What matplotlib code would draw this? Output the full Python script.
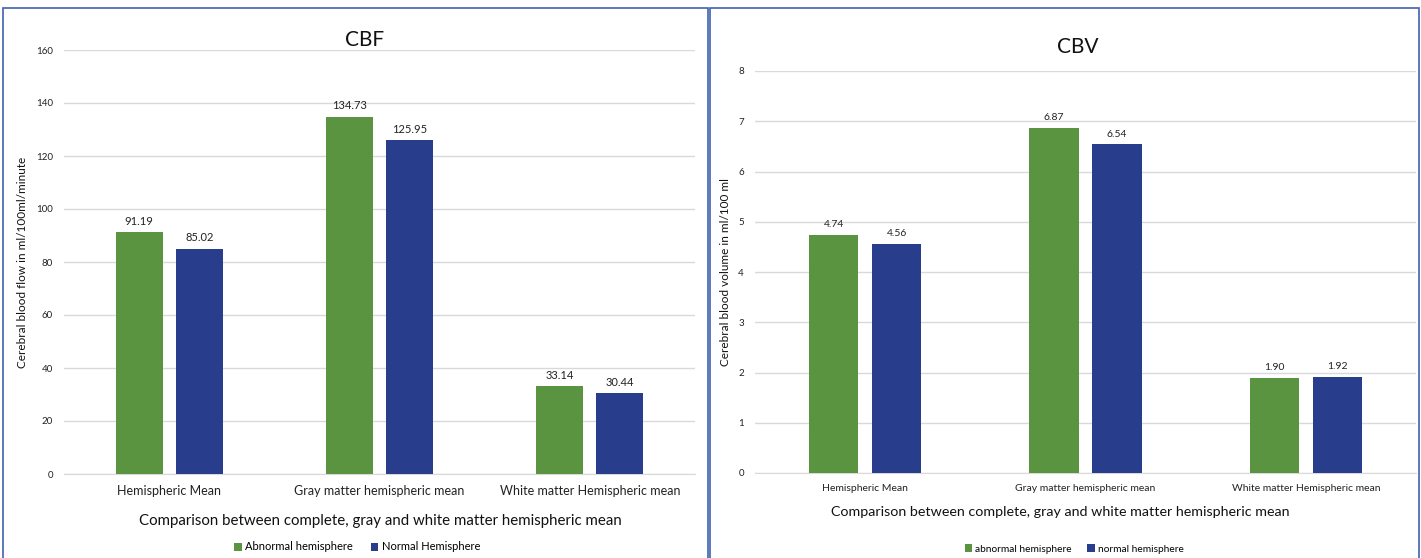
import numpy as np
import matplotlib.pyplot as plt
from matplotlib.patches import Rectangle

plt.rcParams['font.family'] = ['Lato', 'DejaVu Sans']

categories = ['Hemispheric Mean', 'Gray matter hemispheric mean', 'White matter Hemispheric mean']
cbf_abnormal = [91.19, 134.73, 33.14]
cbf_normal = [85.02, 125.95, 30.44]
cbv_abnormal = [4.74, 6.87, 1.90]
cbv_normal = [4.56, 6.54, 1.92]

green = '#5A9441'
blue = '#283E8D'
grid = '#D9D9D9'
xlab_text = 'Comparison between complete, gray and white matter hemispheric mean'

W, H = 1421, 558
fig = plt.figure(figsize=(W / 100, H / 100), dpi=100)

# panel frames
fig.patches.append(Rectangle((3 / W, -0.01), 705 / W, (H - 8) / H + 0.01, transform=fig.transFigure,
                             fill=False, edgecolor='#3E62AE', lw=1.2))
fig.patches.append(Rectangle((710 / W, -0.01), 709 / W, (H - 8) / H + 0.01, transform=fig.transFigure,
                             fill=False, edgecolor='#3E62AE', lw=1.2))


def panel(rect, abn, nor, ymax, ylabel, labels, sizes, leg_xy):
    ax = fig.add_axes(rect)
    x = np.arange(len(categories))
    b1 = ax.bar(x - 0.143, abn, 0.224, color=green, label=labels[0], zorder=3)
    b2 = ax.bar(x + 0.143, nor, 0.224, color=blue, label=labels[1], zorder=3)
    for bars, vals in ((b1, abn), (b2, nor)):
        for b, v in zip(bars, vals):
            ax.annotate('{:.2f}'.format(v), (b.get_x() + b.get_width() / 2, v), xytext=(0, 4),
                        textcoords='offset points', ha='center', va='bottom',
                        fontsize=sizes['val'], color='#222222')
    ax.set_xlim(-0.5, 2.5)
    ax.set_ylim(0, ymax)
    ax.yaxis.grid(True, color=grid, lw=1, zorder=0)
    ax.set_axisbelow(True)
    for s in ('top', 'right', 'left'):
        ax.spines[s].set_visible(False)
    ax.spines['bottom'].set_color(grid)
    ax.tick_params(length=0, labelsize=sizes['tick'], colors='#222222')
    ax.tick_params(axis='y', pad=8)
    ax.tick_params(axis='x', labelsize=sizes['cat'], pad=8)
    ax.set_xticks(x)
    ax.set_xticklabels(categories)
    ax.set_ylabel(ylabel, fontsize=sizes['ylab'], color='#111111', labelpad=sizes['ylpad'])
    fig.legend(handles=[b1, b2], labels=labels, loc='center', bbox_to_anchor=leg_xy,
               ncol=2, frameon=False, fontsize=sizes['leg'], handlelength=0.7,
               handleheight=0.7, columnspacing=1.6, handletextpad=0.3)
    return ax


# CBF
panel([64 / W, 84 / H, 631 / W, 424 / H], cbf_abnormal, cbf_normal, 160,
      'Cerebral blood flow in ml/100ml/minute', ['Abnormal hemisphere', 'Normal Hemisphere'],
      dict(val=8, tick=7, cat=9, ylab=8.5, leg=8, ylpad=6), (357 / W, 11 / H))
fig.text(365 / W, 1 - 40 / H, 'CBF', fontsize=15, ha='center', va='center', color='#111111')
fig.text(380 / W, 1 - 521 / H, xlab_text, fontsize=10.8, ha='center', va='center', color='#111111')

# CBV
panel([755 / W, 85 / H, 661 / W, 402 / H], cbv_abnormal, cbv_normal, 8,
      'Cerebral blood volume in ml/100 ml', ['abnormal hemisphere', 'normal hemisphere'],
      dict(val=7.5, tick=7, cat=7.5, ylab=8.5, leg=7.3, ylpad=5), (1074 / W, 9 / H))
fig.text(1078 / W, 1 - 47 / H, 'CBV', fontsize=15, ha='center', va='center', color='#111111')
fig.text(1060 / W, 1 - 512 / H, xlab_text, fontsize=10.3, ha='center', va='center', color='#111111')

fig.savefig('out.png', dpi=100)
